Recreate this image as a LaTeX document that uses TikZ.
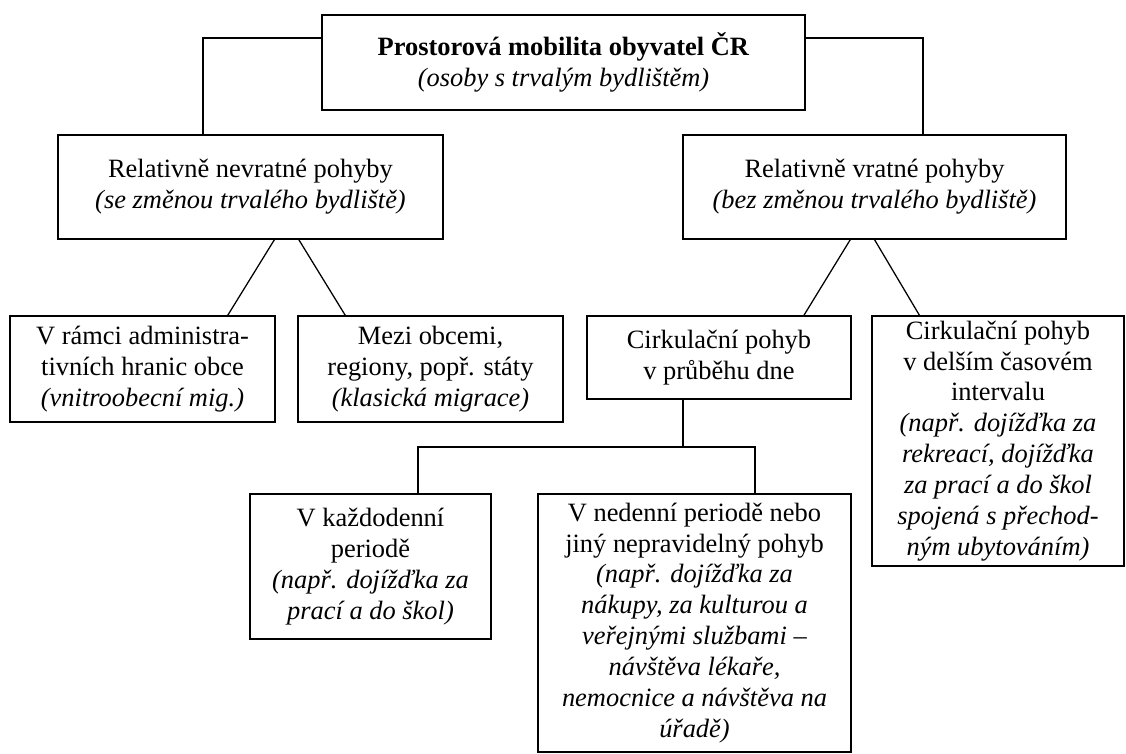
\documentclass[tikz,border=0pt]{standalone}
\usepackage{fontspec}
\setmainfont{Liberation Serif}
\usepackage{tikz}
\usetikzlibrary{calc}
\tikzset{blok/.style={draw, line width=0.9pt, align=center, inner sep=0pt, font=\fontsize{18.8}{22}\selectfont},
         spoj/.style={line width=0.9pt}}
\newcommand{\blok}[6]{\node[blok, minimum width=#4*0.025cm, minimum height=#5*0.025cm] (#1) at ( #2 , #3 ) {#6};}

\begin{document}
\begin{tikzpicture}[x=0.025cm, y=-0.025cm]
        \useasboundingbox (0,0) rectangle (1126,754);

        % top
        \blok{hlavni}{563.5}{62.5}{483}{95}{\textbf{Prostorová mobilita obyvatel ČR}\\ \textit{(osoby s trvalým bydlištěm)}}

        % row 1
        \blok{nevrat}{250.5}{187}{385}{104}{Relativně nevratné pohyby\\ \textit{(se změnou trvalého bydliště)}}
        \blok{vrat}{874.5}{187}{383}{104}{Relativně vratné pohyby\\ \textit{(bez změnou trvalého bydliště)}}

        % row 2
        \blok{uvnitr}{142.5}{369}{265}{106}{V rámci administra-\\ tivních hranic obce\\ \textit{(vnitroobecní mig.)}}
        \blok{mezi}{430.5}{369}{265}{106}{Mezi obcemi,\\ regiony, popř. státy\\ \textit{(klasická migrace)}}
        \blok{denni}{719}{357.5}{264}{83}{Cirkulační pohyb\\ v průběhu dne}
        \blok{delsi}{998}{441}{252}{250}{Cirkulační pohyb\\ v delším časovém\\ intervalu\\ \textit{(např. dojížďka za}\\ \textit{rekreací, dojížďka}\\ \textit{za prací a do škol}\\ \textit{spojená s přechod-}\\ \textit{ným ubytováním)}}

        % row 3
        \blok{kazdo}{370.5}{566.5}{241}{145}{V každodenní\\ periodě\\ \textit{(např. dojížďka za}\\ \textit{prací a do škol)}}
        \blok{neden}{694.5}{623}{313}{258}{V nedenní periodě nebo\\ jiný nepravidelný pohyb\\ \textit{(např. dojížďka za}\\ \textit{nákupy, za kulturou a}\\ \textit{veřejnými službami –}\\ \textit{návštěva lékaře,}\\ \textit{nemocnice a návštěva na}\\ \textit{úřadě)}}

        % lines from top
        \coordinate (hl) at (203,38);
        \coordinate (hp) at (923,38);
        \draw[spoj] (hlavni.west |- hl) -- (hl) -- (hl |- nevrat.north);
        \draw[spoj] (hlavni.east |- hp) -- (hp) -- (hp |- vrat.north);

        % diagonal lines
        \draw[spoj] ($(nevrat.south west)!0.562!(nevrat.south east)$) -- ($(uvnitr.north west)!0.82!(uvnitr.north east)$);
        \draw[spoj] ($(nevrat.south west)!0.625!(nevrat.south east)$) -- ($(mezi.north west)!0.18!(mezi.north east)$);
        \draw[spoj] ($(vrat.south west)!0.437!(vrat.south east)$) -- ($(denni.north west)!0.82!(denni.north east)$);
        \draw[spoj] ($(vrat.south west)!0.5!(vrat.south east)$) -- ($(delsi.north west)!0.19!(delsi.north east)$);

        % lines to row 3
        \coordinate (rozc) at (683,447);
        \coordinate (rk) at (418,447);
        \coordinate (rn) at (755,447);
        \draw[spoj] (rozc |- denni.south) -- (rozc);
        \draw[spoj] (rk |- kazdo.north) -- (rk) -- (rn) -- (rn |- neden.north);
\end{tikzpicture}
\end{document}
